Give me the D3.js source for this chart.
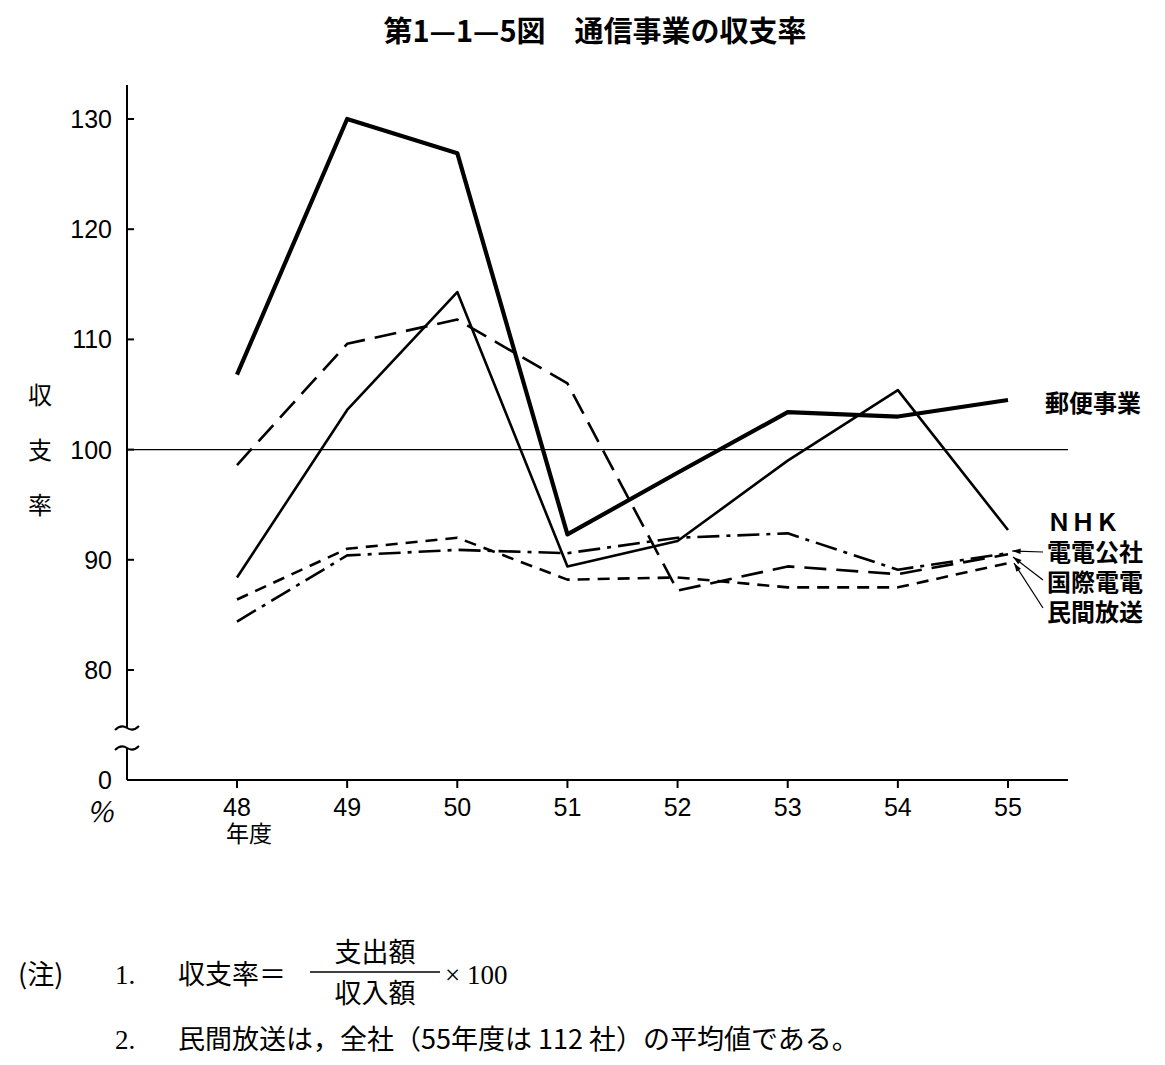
<!DOCTYPE html>
<html><head><meta charset="utf-8">
<script src="https://cdn.jsdelivr.net/npm/d3@7"></script>
<style>body{margin:0;background:#fff}svg{font-family:"Noto Sans CJK JP","Noto Sans",sans-serif}</style>
</head><body><div id="chart"></div>
<script>
const years = ["48","49","50","51","52","53","54","55"];
const yTicks = [80, 90, 100, 110, 120, 130];
const yubin = [106.8, 130, 126.9, 92.3, 97.9, 103.4, 103.0, 104.5];
const nhk = [88.4, 103.6, 114.3, 89.4, 91.7, 99.0, 105.4, 92.7];
const denden = [98.6, 109.6, 111.8, 106.0, 87.2, 89.4, 88.7, 90.5];
const kokusai = [86.4, 91.0, 92.0, 88.2, 88.4, 87.5, 87.5, 89.7];
const minkan = [84.4, 90.4, 90.9, 90.6, 92.0, 92.4, 89.1, 90.6];

const svg = d3.select("#chart").append("svg").attr("width", 1165).attr("height", 1065);
const x = d3.scalePoint().domain(years).range([237, 1008]);
const y = d3.scaleLinear().domain([80, 130]).range([670, 119]);
const axX = 127, baseY = 780;

svg.append("text").attr("x", 595).attr("y", 42).attr("text-anchor", "middle")
  .attr("font-size", 29).attr("font-weight", "bold").text("第1—1—5図　通信事業の収支率");

const g = svg.append("g");
// y axis with break
g.append("line").attr("x1", axX).attr("x2", axX).attr("y1", 85).attr("y2", 728).attr("stroke", "#000").attr("stroke-width", 2);
g.append("line").attr("x1", axX).attr("x2", axX).attr("y1", 748).attr("y2", baseY).attr("stroke", "#000").attr("stroke-width", 2);
g.append("path").attr("d", `M${axX-12},730 q6,-6 12,-2 q6,4 12,-2 M${axX-12},750 q6,-6 12,-2 q6,4 12,-2`).attr("fill", "none").attr("stroke", "#000").attr("stroke-width", 2);
g.selectAll(".yt").data(yTicks).join("line").attr("x1", axX).attr("x2", axX + 7)
  .attr("y1", d => y(d)).attr("y2", d => y(d)).attr("stroke", "#000").attr("stroke-width", 2);
g.selectAll(".yl").data(yTicks).join("text").attr("x", 112).attr("y", d => y(d) + 9)
  .attr("text-anchor", "end").attr("font-size", 25).attr("font-family", "Liberation Sans Narrow, Liberation Sans").text(d => d);
g.append("text").attr("x", 112).attr("y", baseY + 9).attr("text-anchor", "end").attr("font-size", 25).attr("font-family", "Liberation Sans Narrow, Liberation Sans").text("0");
g.append("text").attr("x", 100).attr("y", 822).attr("text-anchor", "middle").attr("font-size", 28).attr("font-style", "italic").text("%");
["収", "支", "率"].forEach((c, i) => g.append("text").attr("x", 40).attr("y", 404 + i * 55).attr("text-anchor", "middle").attr("font-size", 24).text(c));

// x axis
g.append("line").attr("x1", axX).attr("x2", 1068).attr("y1", baseY).attr("y2", baseY).attr("stroke", "#000").attr("stroke-width", 2);
g.selectAll(".xt").data(years).join("line").attr("x1", d => x(d)).attr("x2", d => x(d))
  .attr("y1", baseY).attr("y2", baseY + 8).attr("stroke", "#000").attr("stroke-width", 2);
g.selectAll(".xl").data(years).join("text").attr("x", d => x(d)).attr("y", baseY + 36)
  .attr("text-anchor", "middle").attr("font-size", 25).attr("font-family", "Liberation Sans Narrow, Liberation Sans").text(d => d);
g.append("text").attr("x", x("48") + 12).attr("y", baseY + 62).attr("text-anchor", "middle").attr("font-size", 23).text("年度");

// 100 line
g.append("line").attr("x1", axX).attr("x2", 1068).attr("y1", y(100)).attr("y2", y(100)).attr("stroke", "#000").attr("stroke-width", 1.3);

const line = d3.line().x((d, i) => x(years[i])).y(d => y(d));
const series = [
  { v: yubin, w: 4.2, dash: null },
  { v: nhk, w: 2.6, dash: null },
  { v: denden, w: 2.6, dash: "22,10" },
  { v: kokusai, w: 2.6, dash: "12,8" },
  { v: minkan, w: 2.6, dash: "22,7,4,7" }
];
series.forEach(s => svg.append("path").attr("d", line(s.v)).attr("fill", "none").attr("stroke", "#000")
  .attr("stroke-width", s.w).attr("stroke-dasharray", s.dash).attr("stroke-linejoin", "round"));

// labels
svg.append("text").attr("x", 1045).attr("y", 412).attr("font-size", 24).attr("font-weight", "bold").text("郵便事業");
const labs = ["ＮＨＫ", "電電公社", "国際電電", "民間放送"];
labs.forEach((t, i) => svg.append("text").attr("x", 1047).attr("y", 531 + i * 30).attr("font-size", 24).attr("font-weight", "bold").text(t));
[[1043, 552, 1012, 551], [1043, 580, 1013, 557], [1043, 608, 1014, 563]].forEach(a => {
  svg.append("line").attr("x1", a[0]).attr("y1", a[1]).attr("x2", a[2]).attr("y2", a[3]).attr("stroke", "#000").attr("stroke-width", 1.2);
  const ang = Math.atan2(a[1] - a[3], a[0] - a[2]);
  const p = (r, da) => [a[2] + r * Math.cos(ang + da), a[3] + r * Math.sin(ang + da)];
  svg.append("path").attr("d", `M${a[2]},${a[3]}L${p(9, 0.3)}L${p(9, -0.3)}Z`).attr("fill", "#000");
});

// notes
const n = svg.append("g").attr("font-size", 27);
n.append("text").attr("x", 18).attr("y", 984).text("(注)");
n.append("text").attr("x", 115).attr("y", 984).attr("font-family", "Liberation Serif").text("1.");
n.append("text").attr("x", 178).attr("y", 984).text("収支率＝");
n.append("text").attr("x", 375).attr("y", 962).attr("text-anchor", "middle").text("支出額");
n.append("line").attr("x1", 310).attr("x2", 440).attr("y1", 972).attr("y2", 972).attr("stroke", "#000").attr("stroke-width", 1.5);
n.append("text").attr("x", 375).attr("y", 1003).attr("text-anchor", "middle").text("収入額");
n.append("text").attr("x", 445).attr("y", 984).attr("font-family", "Liberation Serif").text("× 100");
n.append("text").attr("x", 115).attr("y", 1049).attr("font-family", "Liberation Serif").text("2.");
n.append("text").attr("x", 178).attr("y", 1049).text("民間放送は，全社（55年度は 112 社）の平均値である。");
</script></body></html>
